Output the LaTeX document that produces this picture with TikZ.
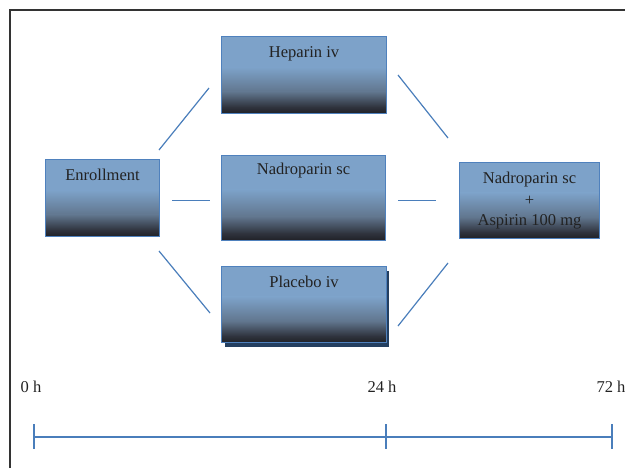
\documentclass[tikz,border=0pt]{standalone}
\usepackage{fontspec}
\setmainfont{Liberation Serif}
\usetikzlibrary{calc}
\definecolor{boxlight}{HTML}{7DA2C9}
\definecolor{boxmid}{HTML}{61768E}
\definecolor{boxdark}{HTML}{202127}
\definecolor{boxdark2}{HTML}{2F333D}
\definecolor{boxedge}{HTML}{4F81BD}
\definecolor{linkblue}{HTML}{4A7EBB}
\definecolor{shadowblue}{HTML}{243F60}
\definecolor{framegray}{HTML}{333333}
\definecolor{txt}{HTML}{222222}
\tikzset{
  armbox/.style={rectangle, inner sep=0pt},
  armtext/.style={text=txt, font=\fontsize{12.4}{14}\selectfont, align=center, inner sep=0pt},
  link/.style={draw=linkblue, line width=0.9pt},
  axis/.style={draw=linkblue, line width=1.5pt},
}
\newcommand{\armfill}[1]{%
  \fill[boxlight] (#1.north west) rectangle ($(#1.north east)!0.40!(#1.south east)$);
  \shade[top color=boxlight, bottom color=boxmid] ($(#1.north west)!0.399!(#1.south west)$) rectangle ($(#1.north east)!0.72!(#1.south east)$);
  \shade[top color=boxmid, bottom color=boxdark2] ($(#1.north west)!0.719!(#1.south west)$) rectangle ($(#1.north east)!0.92!(#1.south east)$);
  \shade[top color=boxdark2, bottom color=boxdark] ($(#1.north west)!0.919!(#1.south west)$) rectangle (#1.south east);
  \draw[boxedge, line width=1.1pt] (#1.north west) rectangle (#1.south east);
}
\begin{document}
\begin{tikzpicture}[x=0.75pt,y=-0.75pt]
\useasboundingbox (0,0) rectangle (625,468);
% frame
\draw[framegray, line width=0.9pt] (10,468) -- (10,10) -- (625,10);
% boxes
\node[armbox, minimum width=113*0.75pt, minimum height=76*0.75pt] (enr) at (102.5,198) {};
\node[armbox, minimum width=164*0.75pt, minimum height=76*0.75pt] (hep) at (304,75) {};
\node[armbox, minimum width=163*0.75pt, minimum height=84*0.75pt] (nad) at (303.5,198) {};
\node[armbox, minimum width=164*0.75pt, minimum height=75*0.75pt] (pla) at (304,304.5) {};
\node[armbox, minimum width=139*0.75pt, minimum height=75*0.75pt] (comb) at (529.5,200.5) {};
\fill[shadowblue] (224.5,271) rectangle (388.5,346.5);
\armfill{enr}
\armfill{hep}
\armfill{nad}
\armfill{pla}
\armfill{comb}
% texts
\node[armtext] (tenr) at (102.5,175) {Enrollment};
\node[armtext] (thep) at (304,54) {Heparin iv};
\node[armtext] (tnad) at (303.5,171) {Nadroparin sc};
\node[armtext] (tpla) at (304,282) {Placebo iv};
\node[armtext] (tcomb1) at (529.5,179.5) {Nadroparin sc};
\node[armtext] (tcomb2) at (529.5,200.5) {+};
\node[armtext] (tcomb3) at (529.5,222) {Aspirin 100 mg};
% connector ends
\coordinate (a1) at (159,150); \coordinate (a2) at (209,88);
\coordinate (b1) at (172,200.7); \coordinate (b2) at (210,200.7);
\coordinate (c1) at (159,251); \coordinate (c2) at (210,313);
\coordinate (d1) at (398,75); \coordinate (d2) at (448,138);
\coordinate (e1) at (398,200.7); \coordinate (e2) at (436,200.7);
\coordinate (f1) at (448,263); \coordinate (f2) at (398,326);
\draw[link] (a1) -- (a2);
\draw[link] (b1) -- (b2);
\draw[link] (c1) -- (c2);
\draw[link] (d1) -- (d2);
\draw[link] (e1) -- (e2);
\draw[link] (f1) -- (f2);
% timeline
\coordinate (t0) at (34,437); \coordinate (t24) at (386,437); \coordinate (t72) at (612,437);
\draw[axis] (t0) -- (t72);
\draw[axis] (34,424) -- (34,449);
\draw[axis] (386,424) -- (386,449);
\draw[axis] (612,424) -- (612,449);
\node[armtext] (l0) at (31,387) {0 h};
\node[armtext] (l24) at (382,387) {24 h};
\node[armtext] (l72) at (611,387) {72 h};
\end{tikzpicture}
\end{document}
